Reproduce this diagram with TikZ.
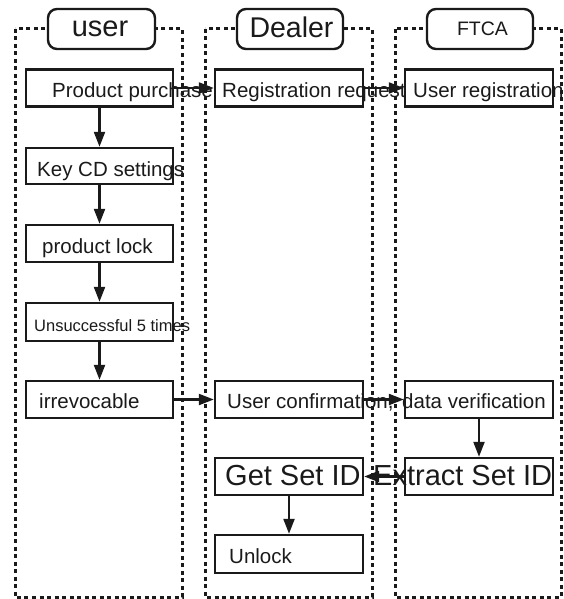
\documentclass[tikz,border=0pt]{standalone}
\usepackage{fontspec}
\setmainfont{Liberation Sans}
\usetikzlibrary{arrows.meta}
\definecolor{ink}{HTML}{1A1A1A}
\tikzset{
  lane/.style={draw=ink, line width=3pt, dash pattern=on 4pt off 3.5pt},
  head/.style={draw=ink, fill=white, line width=2.4pt, rounded corners=9pt, minimum width=106pt, minimum height=40pt, inner sep=0pt},
  stepbox/.style={draw=ink, line width=2.4pt, minimum width=147pt, minimum height=37pt, inner sep=0pt},
  lbl/.style={anchor=base west, inner sep=0pt, text=ink, font=\fontsize{20.5}{24}\selectfont},
  biglbl/.style={lbl, font=\fontsize{29}{34}\selectfont},
  hlbl/.style={anchor=base, inner sep=0pt, text=ink},
  flow/.style={draw=ink, line width=2.2pt, -{Triangle[length=15pt,width=11pt]}}
}
\begin{document}
\begin{tikzpicture}[x=1pt,y=-1pt]
\useasboundingbox (0,0) rectangle (563,599);
% lanes
\draw[lane] (15,29) rectangle (182,597);
\draw[lane] (205,29) rectangle (372,597);
\draw[lane] (395,29) rectangle (561,597);
% headers
\node[head, minimum width=107pt] (huser) at (101.5,29) {};
\node[head] (hdealer) at (290,29) {};
\node[head] (hftca) at (480,29) {};
\node[hlbl, font=\fontsize{29}{34}\selectfont] (tuser) at (100,37) {user};
\node[hlbl, font=\fontsize{28.5}{34}\selectfont] (tdealer) at (291.5,37.5) {Dealer};
\node[hlbl, font=\fontsize{19.5}{24}\selectfont] (tftca) at (482.5,36) {FTCA};
% boxes
\node[stepbox] (pp) at (99.5,88) {};
\node[stepbox, minimum width=148pt] (rr) at (289,88) {};
\node[stepbox, minimum width=148pt] (ur) at (479,88) {};
\node[stepbox, minimum height=36pt] (kc) at (99.5,166) {};
\node[stepbox] (pl) at (99.5,243.5) {};
\node[stepbox, minimum height=38pt] (us) at (99.5,322) {};
\node[stepbox] (ir) at (99.5,399.5) {};
\node[stepbox, minimum width=148pt] (uc) at (289,399.5) {};
\node[stepbox, minimum width=148pt] (dv) at (479,399.5) {};
\node[stepbox, minimum width=148pt] (gs) at (289,476.5) {};
\node[stepbox, minimum width=148pt] (es) at (479,476.5) {};
\node[stepbox, minimum width=148pt, minimum height=38pt] (ul) at (289,554) {};
% arrows
\draw[flow] (pp.east) -- (rr.west);
\draw[flow] (rr.east) -- (ur.west);
\draw[flow] (pp.south) -- (kc.north);
\draw[flow] (kc.south) -- (pl.north);
\draw[flow] (pl.south) -- (us.north);
\draw[flow] (us.south) -- (ir.north);
\draw[flow] (ir.east) -- (uc.west);
\draw[flow] (uc.east) -- (dv.west);
\draw[flow] (dv.south) -- (es.north);
\draw[flow] (es.west) -- (gs.east);
\draw[flow] (gs.south) -- (ul.north);
% texts
\node[lbl] (tpp) at (52,98) {Product purchase};
\node[lbl] (trr) at (222,98) {Registration request};
\node[lbl] (tur) at (413,98) {User registration};
\node[lbl] (tkc) at (37,176) {Key CD settings};
\node[lbl] (tpl) at (42,253) {product lock};
\node[lbl, font=\fontsize{16.5}{20}\selectfont] (tus) at (34,331) {Unsuccessful 5 times};
\node[lbl] (tir) at (39,408) {irrevocable};
\node[lbl] (tuc) at (227,408) {User confirmation,};
\node[lbl] (tdv) at (402,408) {data verification};
\node[biglbl] (tgs) at (225,485) {Get Set ID};
\node[biglbl] (tes) at (373,485) {Extract Set ID};
\node[lbl] (tul) at (229,563) {Unlock};
\end{tikzpicture}
\end{document}
